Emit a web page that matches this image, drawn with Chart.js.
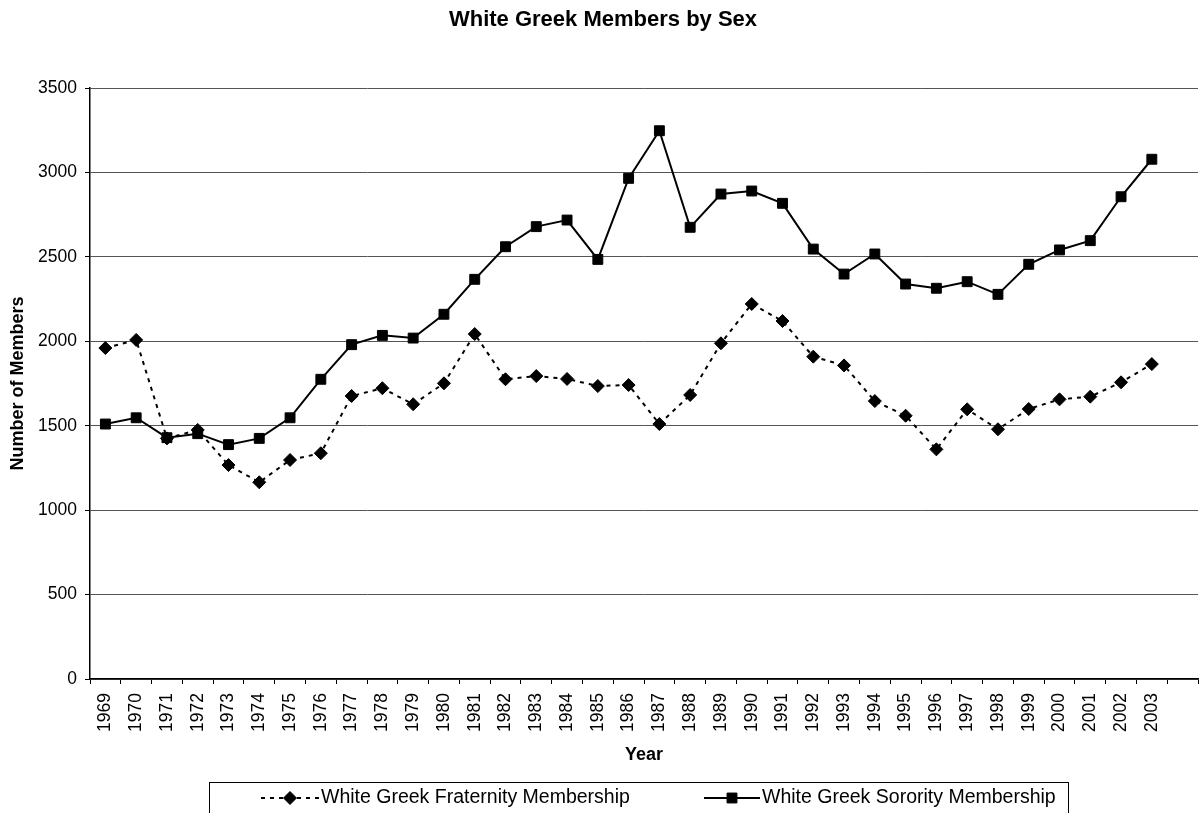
<!DOCTYPE html>
<html>
<head>
<meta charset="utf-8">
<title>White Greek Members by Sex</title>
<script src="https://cdn.jsdelivr.net/npm/chart.js@4.4.1/dist/chart.umd.min.js"></script>
<style>
  html, body { margin: 0; padding: 0; background: #fff; }
  #frame { width: 1199px; height: 813px; overflow: hidden; position: relative; }
  canvas { display: block; }
</style>
</head>
<body>
<div id="frame"><canvas id="chart" width="1206" height="813"></canvas></div>
<script>
// Survey years (one category per year)
const years = ['1969', '1970', '1971', '1972', '1973', '1974', '1975', '1976', '1977', '1978',
  '1979', '1980', '1981', '1982', '1983', '1984', '1985', '1986', '1987', '1988',
  '1989', '1990', '1991', '1992', '1993', '1994', '1995', '1996', '1997', '1998',
  '1999', '2000', '2001', '2002', '2003'];

// Membership counts per year
const fraternityMembers = [1960, 2008, 1425, 1475, 1267, 1165, 1297, 1337, 1676, 1722,
  1627, 1751, 2043, 1775, 1794, 1777, 1735, 1741, 1510, 1682,
  1988, 2221, 2120, 1909, 1857, 1646, 1559, 1360, 1597, 1479,
  1599, 1656, 1672, 1757, 1865];
const sororityMembers = [1510, 1547, 1429, 1453, 1388, 1425, 1547, 1775, 1980, 2035,
  2019, 2160, 2367, 2560, 2679, 2718, 2485, 2965, 3247, 2675,
  2872, 2890, 2817, 2546, 2398, 2517, 2339, 2314, 2353, 2278,
  2456, 2541, 2596, 2856, 3078];

// Value axis ticks
const yTicks = [0, 500, 1000, 1500, 2000, 2500, 3000, 3500];

const seriesNames = ['White Greek Fraternity Membership', 'White Greek Sorority Membership'];

const FONT = "'Liberation Sans', Arial, Helvetica, sans-serif";

// The category axis runs one empty slot past the last year
const categoryLabels = years.concat(['']);

// Boxed legend with a line sample and marker for each series
const boxedLegend = {
  id: 'boxedLegend',
  afterDraw(chart) {
    const ctx = chart.ctx;
    const boxLeft = 209.5, boxTop = 782.5, boxRight = 1068.5, boxBottom = 830;
    const rowY = 798;
    ctx.save();
    ctx.strokeStyle = '#000';
    ctx.lineWidth = 1;
    ctx.strokeRect(boxLeft, boxTop, boxRight - boxLeft, boxBottom - boxTop);

    const entries = [
      { ds: chart.data.datasets[0], x0: 261, x1: 319, textX: 321 },
      { ds: chart.data.datasets[1], x0: 704, x1: 760, textX: 762 }
    ];
    entries.forEach(e => {
      const ds = e.ds;
      ctx.strokeStyle = ds.borderColor;
      ctx.lineWidth = ds.borderWidth;
      ctx.setLineDash(ds.borderDash || []);
      ctx.beginPath();
      ctx.moveTo(e.x0, rowY);
      ctx.lineTo(e.x1, rowY);
      ctx.stroke();
      ctx.setLineDash([]);
      ctx.fillStyle = ds.pointBackgroundColor;
      ctx.strokeStyle = ds.pointBorderColor;
      ctx.lineWidth = ds.pointBorderWidth;
      Chart.helpers.drawPoint(ctx, {
        pointStyle: ds.pointStyle,
        radius: ds.pointRadius,
        rotation: 0,
        borderWidth: ds.pointBorderWidth
      }, (e.x0 + e.x1) / 2, rowY);
      ctx.fillStyle = '#000';
      ctx.font = '19.5px ' + FONT;
      ctx.textAlign = 'left';
      ctx.textBaseline = 'middle';
      ctx.fillText(ds.label, e.textX, rowY);
    });
    ctx.restore();
  }
};

const whiteBackground = {
  id: 'whiteBackground',
  beforeDraw(chart) {
    const ctx = chart.ctx;
    ctx.save();
    ctx.fillStyle = '#fff';
    ctx.fillRect(0, 0, chart.width, chart.height);
    ctx.restore();
  }
};

new Chart(document.getElementById('chart'), {
  type: 'line',
  data: {
    labels: categoryLabels,
    datasets: [
      {
        label: seriesNames[0],
        data: fraternityMembers,
        borderColor: '#000',
        borderWidth: 2,
        borderDash: [4, 5],
        pointStyle: 'rectRot',
        pointRadius: 6.5,
        pointHoverRadius: 6.5,
        pointBackgroundColor: '#000',
        pointBorderColor: '#000',
        pointBorderWidth: 1,
        tension: 0,
        fill: false
      },
      {
        label: seriesNames[1],
        data: sororityMembers,
        borderColor: '#000',
        borderWidth: 2,
        pointStyle: 'rect',
        pointRadius: 7,
        pointHoverRadius: 7,
        pointBackgroundColor: '#000',
        pointBorderColor: '#000',
        pointBorderWidth: 1,
        tension: 0,
        fill: false
      }
    ]
  },
  options: {
    responsive: false,
    animation: false,
    devicePixelRatio: 1,
    layout: { padding: { left: 0, right: 0, top: 0, bottom: 44 } },
    plugins: {
      legend: { display: false },
      tooltip: { enabled: false },
      title: {
        display: true,
        text: 'White Greek Members by Sex',
        color: '#000',
        font: { family: FONT, size: 22, weight: 'bold', lineHeight: 1.2 },
        padding: { top: 7, bottom: 54.6 }
      }
    },
    scales: {
      x: {
        type: 'category',
        offset: true,
        afterFit(scale) {
          scale.height = 90;
          scale.paddingLeft = 0;
          scale.paddingRight = 0;
        },
        grid: {
          display: true,
          drawOnChartArea: false,
          drawTicks: true,
          tickLength: 5,
          offset: true,
          color: '#000',
          tickColor: '#000'
        },
        border: { display: true, color: '#000', width: 1.5 },
        ticks: {
          autoSkip: false,
          minRotation: 90,
          maxRotation: 90,
          padding: 9,
          color: '#000',
          font: { family: FONT, size: 17.5 }
        },
        title: {
          display: true,
          text: 'Year',
          color: '#000',
          font: { family: FONT, size: 18, weight: 'bold', lineHeight: 1.2 },
          padding: { top: 4, bottom: 3 }
        }
      },
      y: {
        min: 0,
        max: 3500,
        afterFit(scale) { scale.width = 90; },
        afterBuildTicks(scale) { scale.ticks = yTicks.map(v => ({ value: v })); },
        grid: {
          color: '#555',
          lineWidth: 1,
          drawTicks: true,
          tickLength: 5,
          tickColor: '#000'
        },
        border: { display: true, color: '#000', width: 1.5 },
        ticks: {
          padding: 8,
          color: '#000',
          font: { family: FONT, size: 17.5 },
          callback: (value) => String(value)
        },
        title: {
          display: true,
          text: 'Number of Members',
          color: '#000',
          font: { family: FONT, size: 18, weight: 'bold', lineHeight: 1.2 },
          padding: { top: 7, bottom: 4 }
        }
      }
    }
  },
  plugins: [whiteBackground, boxedLegend]
});
</script>
</body>
</html>
